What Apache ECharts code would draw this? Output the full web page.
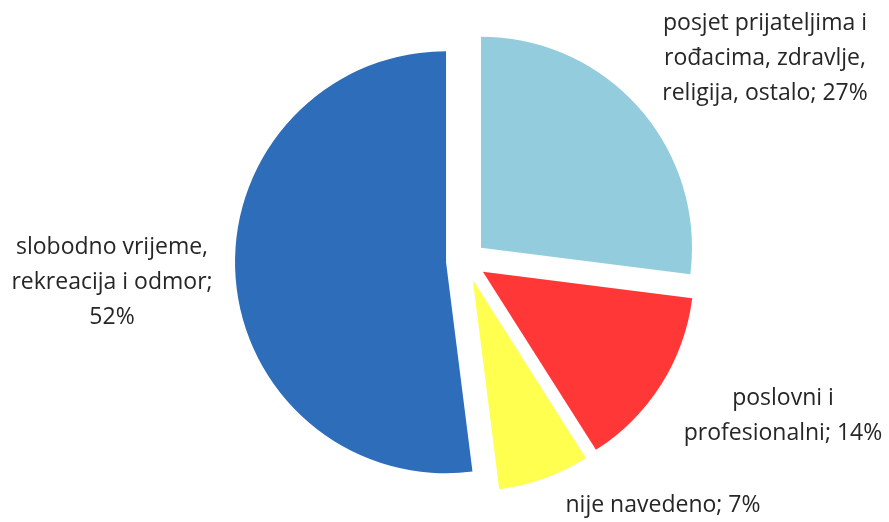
<!DOCTYPE html>
<html>
<head>
<meta charset="utf-8">
<script src="https://cdn.jsdelivr.net/npm/echarts@6/dist/echarts.min.js"></script>
<style>html,body{margin:0;padding:0;background:#fff}#c{width:889px;height:522px}</style>
</head>
<body>
<div id="c"></div>
<script>
const categories = [
  'posjet prijateljima i\nrođacima, zdravlje,\nreligija, ostalo',
  'poslovni i\nprofesionalni',
  'nije navedeno',
  'slobodno vrijeme,\nrekreacija i odmor'
];
const values = [27, 14, 7, 52];
const colors = ['#93CDDD', '#FF3737', '#FFFF4F', '#2E6DBA'];
const labelSeparators = [' ', ' ', ' ', '\n'];
const labelSpots = [[765, 58], [783, 416], [663, 505], [112, 282]];

const chart = echarts.init(document.getElementById('c'));
chart.setOption({
  animation: false,
  series: [{
    type: 'pie',
    center: [466, 261],
    radius: 211,
    startAngle: 90,
    clockwise: true,
    selectedMode: 'multiple',
    selectedOffset: 20,
    emphasis: { disabled: true },
    label: { show: false },
    labelLine: { show: false },
    data: categories.map((n, i) => ({
      name: n, value: values[i], selected: true,
      itemStyle: { color: colors[i] }
    }))
  }, {
    type: 'pie',
    center: [466, 261],
    radius: 211,
    startAngle: 90,
    clockwise: true,
    silent: true,
    z: 5,
    avoidLabelOverlap: false,
    emphasis: { disabled: true },
    itemStyle: { color: 'rgba(0,0,0,0)' },
    labelLine: { show: false },
    label: {
      show: true,
      position: 'outside',
      overflow: 'none',
      fontFamily: 'Open Sans',
      fontSize: 23,
      lineHeight: 35,
      color: '#262626',
      align: 'center',
      formatter: p => p.name + ';' + labelSeparators[p.dataIndex] + p.value + '%'
    },
    labelLayout: p => ({
      x: labelSpots[p.dataIndex][0],
      y: labelSpots[p.dataIndex][1],
      align: 'center',
      verticalAlign: 'middle'
    }),
    data: categories.map((n, i) => ({ name: n, value: values[i] }))
  }]
});
</script>
</body>
</html>
